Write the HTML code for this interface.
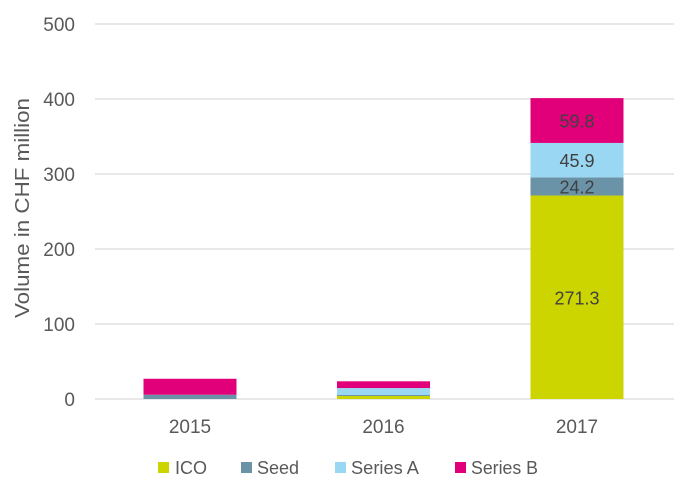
<!DOCTYPE html>
<html><head><meta charset="utf-8"><style>
body{margin:0;background:#fff;font-family:"Liberation Sans",sans-serif}
svg text{font-family:"Liberation Sans",sans-serif;fill:#595959}
</style></head><body>
<svg width="694" height="491">
<g id="grid"></g>
<g id="bars"></g>
<g id="labels"></g>
<text transform="translate(29,208) rotate(-90)" text-anchor="middle" font-size="20" textLength="220" lengthAdjust="spacingAndGlyphs">Volume in CHF million</text>
<g font-size="18">
<rect x="158" y="462" width="11" height="11" fill="#cdd500"/><text x="175" y="474">ICO</text>
<rect x="241" y="462" width="11" height="11" fill="#6a93a8"/><text x="257" y="474">Seed</text>
<rect x="335" y="462" width="11" height="11" fill="#9ad7f2"/><text x="351" y="474" textLength="68" lengthAdjust="spacingAndGlyphs">Series A</text>
<rect x="455" y="462" width="11" height="11" fill="#e2007a"/><text x="471" y="474" textLength="67" lengthAdjust="spacingAndGlyphs">Series B</text>
</g>
</svg>
<script>
const categories=["2015","2016","2017"];
const ico=[0,4,271.3];
const seed=[5.7,1.3,24.2];
const seriesA=[0,9.3,45.9];
const seriesB=[21.3,9,59.8];
const yTicks=[0,100,200,300,400,500];
const NS="http://www.w3.org/2000/svg";
const y=v=>399-v*0.75;
const x=i=>190+i*193.5;
const bw=93;
function mk(t,a,p){const e=document.createElementNS(NS,t);for(const k in a)e.setAttribute(k,a[k]);p.appendChild(e);return e;}
const g=document.getElementById('grid'),b=document.getElementById('bars'),l=document.getElementById('labels');
yTicks.forEach(t=>{
 const ln=mk('line',{x1:95,x2:674,y1:y(t),y2:y(t),stroke:'#d9d9d9','stroke-width':1.3},g);
 
 
 const tx=mk('text',{x:75,y:y(t)+7,'text-anchor':'end','font-size':19},l);tx.textContent=t;
 
 
});
const series=[[ico,'#cdd500','ico'],[seed,'#6a93a8','seed'],[seriesA,'#9ad7f2','series-a'],[seriesB,'#e2007a','series-b']];
categories.forEach((c,i)=>{
 let base=0;
 series.forEach(([arr,col,nm])=>{
  const v=arr[i];
  if(v>0){
   const r=mk('rect',{x:x(i)-bw/2,y:y(base+v),width:bw,height:v*0.75,fill:col},b);
   
   
   if(v>20&&c==="2017"){
    const t=mk('text',{x:x(i),y:y(base+v/2)+7,'text-anchor':'middle','font-size':18,style:'fill:#404040'},l);
    t.textContent=v.toFixed(1);
    
    
   }
  }
  base+=v;
 });
 const t=mk('text',{x:x(i),y:433,'text-anchor':'middle','font-size':19},l);t.textContent=c;
 
 
});
</script>
</body></html>
